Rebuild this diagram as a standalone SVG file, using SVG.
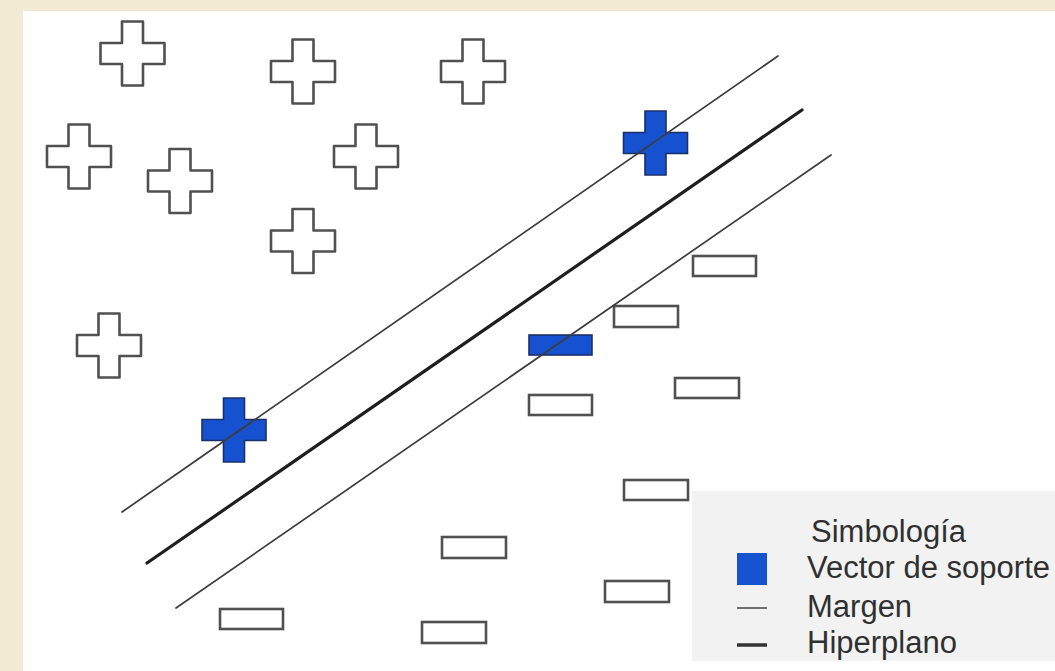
<svg xmlns="http://www.w3.org/2000/svg" width="1055" height="671" viewBox="0 0 1055 671">
  <defs>
    <style>
      .cross { fill: #ffffff; stroke: #505050; stroke-width: 2.6; stroke-linejoin: round; }
      .sv { fill: #1652cf; stroke: #1b2f6a; stroke-width: 1.6; }
      .pt { fill: #ffffff; stroke: #505050; stroke-width: 2.6; }
      .margin { stroke: #3c3c3c; stroke-width: 1.7; fill: none; stroke-linecap: round; }
      .hyper { stroke: #1e1e1e; stroke-width: 3.2; fill: none; stroke-linecap: round; }
      .lbl { font-family: "Liberation Sans", Arial, sans-serif; font-size: 31px; fill: #303030; }
    </style>
    <!-- plus-shaped marker, 64 wide, arms 21 thick, centred on origin -->
    <path id="plus" d="M-10.5,-32 H10.5 V-10.5 H32 V10.5 H10.5 V32 H-10.5 V10.5 H-32 V-10.5 H-10.5 Z"/>
  </defs>

  <!-- page frame -->
  <rect x="0" y="0" width="1055" height="671" fill="#f2ead3"/>
  <rect x="23" y="11" width="1032" height="660" fill="#ffffff"/>

  <!-- positive class -->
  <g id="pos-1"><use href="#plus" class="cross" x="132.5" y="53.5"/></g>
  <g id="pos-2"><use href="#plus" class="cross" x="303" y="71.5"/></g>
  <g id="pos-3"><use href="#plus" class="cross" x="473" y="71.5"/></g>
  <g id="pos-4"><use href="#plus" class="cross" x="79" y="156.5"/></g>
  <g id="pos-5"><use href="#plus" class="cross" x="180" y="181"/></g>
  <g id="pos-6"><use href="#plus" class="cross" x="366" y="156.5"/></g>
  <g id="pos-7"><use href="#plus" class="cross" x="303" y="241"/></g>
  <g id="pos-8"><use href="#plus" class="cross" x="109" y="345.5"/></g>
  <g id="pos-sv-1"><use href="#plus" class="sv" x="234" y="430"/></g>
  <g id="pos-sv-2"><use href="#plus" class="sv" x="655.5" y="143"/></g>

  <!-- negative class -->
  <g id="neg-1"><rect class="pt" x="693" y="256" width="63" height="20"/></g>
  <g id="neg-2"><rect class="pt" x="614" y="306" width="64" height="21"/></g>
  <g id="neg-sv"><rect class="sv" x="529" y="335" width="63" height="20"/></g>
  <g id="neg-3"><rect class="pt" x="675" y="378" width="64" height="20"/></g>
  <g id="neg-4"><rect class="pt" x="529" y="395" width="63" height="20"/></g>
  <g id="neg-5"><rect class="pt" x="624" y="480" width="64" height="20"/></g>
  <g id="neg-6"><rect class="pt" x="442" y="537" width="64" height="21"/></g>
  <g id="neg-7"><rect class="pt" x="605" y="581" width="64" height="21"/></g>
  <g id="neg-8"><rect class="pt" x="220" y="609" width="63" height="20"/></g>
  <g id="neg-9"><rect class="pt" x="422" y="622" width="64" height="21"/></g>

  <!-- separating hyperplane and margins -->
  <g id="connectors">
    <line class="margin" x1="122" y1="512" x2="778" y2="56"/>
    <line class="hyper" x1="147" y1="563" x2="802" y2="110"/>
    <line class="margin" x1="176" y1="608" x2="831" y2="155"/>
  </g>

  <!-- key -->
  <g id="legend">
    <rect x="692" y="491" width="363" height="170" fill="#f2f2f2"/>
    <text class="lbl" x="811" y="542">Simbología</text>
    <rect x="737" y="553" width="30" height="32" fill="#1652cf"/>
    <text class="lbl" x="807" y="578">Vector de soporte</text>
    <line x1="737" y1="608" x2="767" y2="608" stroke="#444444" stroke-width="1.5"/>
    <text class="lbl" x="807" y="617">Margen</text>
    <line x1="737" y1="645" x2="767" y2="645" stroke="#333333" stroke-width="3.5"/>
    <text class="lbl" x="807" y="653">Hiperplano</text>
  </g>
</svg>
